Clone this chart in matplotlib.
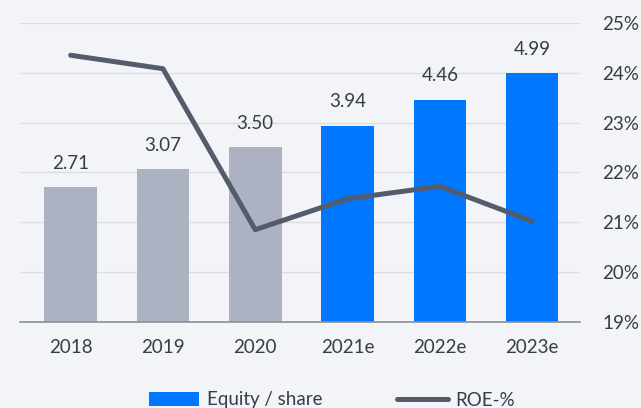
import matplotlib
matplotlib.use('Agg')
import matplotlib.pyplot as plt
from matplotlib.patches import Patch
from matplotlib.lines import Line2D
import numpy as np

years = ['2018', '2019', '2020', '2021e', '2022e', '2023e']
equity_share = [2.71, 3.07, 3.50, 3.94, 4.46, 4.99]
roe_pct = [24.35, 24.08, 20.85, 21.47, 21.72, 21.02]
is_estimate = [False, False, False, True, True, True]
roe_ticks = [19, 20, 21, 22, 23, 24, 25]

bg = '#f3f4f8'
grey_bar = '#adb2c3'
blue_bar = '#0077ff'
line_col = '#545c6c'
text_col = '#363c48'

plt.rcParams['font.family'] = ['Lato', 'DejaVu Sans']
fs = 13.5

fig = plt.figure(figsize=(6.41, 4.08), dpi=100, facecolor=bg)
ax = fig.add_axes([0.031, 0.211, 0.874, 0.733])
ax.set_facecolor(bg)
ax2 = ax.twinx()

x = np.arange(len(years))
colors = [blue_bar if e else grey_bar for e in is_estimate]
ax.bar(x, equity_share, width=0.57, color=colors, zorder=3)
for xi, v in zip(x, equity_share):
    ax.annotate(f'{v:.2f}', (xi, v), xytext=(0, 11), textcoords='offset points',
                ha='center', va='bottom', fontsize=fs, color=text_col)

ax.set_ylim(0, 6)
ax.set_xlim(-0.55, 5.52)
ax.set_yticks([])
ax.set_xticks(x)
ax.set_xticklabels(years, fontsize=fs, color=text_col)
ax.tick_params(axis='x', length=0, pad=12.5)
for s in ['top', 'left', 'right']:
    ax.spines[s].set_visible(False)
ax.spines['bottom'].set_color('#8a8f99')
ax.spines['bottom'].set_linewidth(1.2)
ax.spines['bottom'].set_zorder(4)

ax2.plot(x, roe_pct, color=line_col, linewidth=3.6, solid_capstyle='round', zorder=5)
ax2.set_ylim(19, 25)
ax2.set_yticks(roe_ticks)
ax2.set_yticklabels([f'{t}%' for t in roe_ticks], fontsize=fs, color=text_col)
ax2.tick_params(axis='y', length=0, pad=16)
for s in ax2.spines.values():
    s.set_visible(False)
for t in roe_ticks[1:]:
    ax.axhline((t - 19), color='#dcdde3', linewidth=1, zorder=1)

handles = [Patch(facecolor=blue_bar, edgecolor='none'),
           Line2D([0], [0], color=line_col, linewidth=3.6, solid_capstyle='round')]
fig.legend(handles, ['Equity / share', 'ROE-%'], loc='center', ncol=2,
           bbox_to_anchor=(332 / 641, 1 - 400 / 408), frameon=False,
           fontsize=fs, handlelength=2.7, handletextpad=0.4, columnspacing=4.0,
           labelcolor=text_col)

fig.savefig('out.png', dpi=100, facecolor=bg)
